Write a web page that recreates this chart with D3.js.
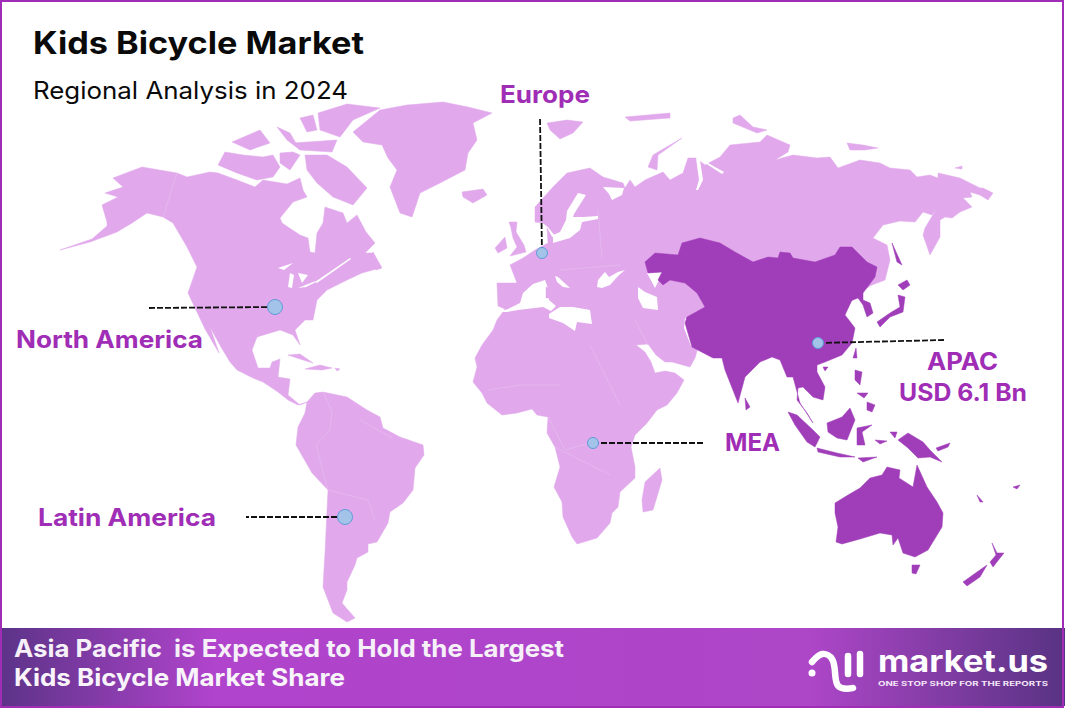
<!doctype html>
<html>
<head>
<meta charset="UTF-8">
<title>Kids Bicycle Market</title>
<script src="https://d3js.org/d3.v7.min.js"></script>
<style type="text/css">
html, body { margin: 0; padding: 0; background: #fff; }
svg { display: block; }
text { font-family: Inter, "Open Sans", sans-serif; }
</style>
</head>
<body>
<script type="text/javascript">
// Text of the chart
var chartTitle = "Kids Bicycle Market";
var chartSubtitle = "Regional Analysis in 2024";
var bannerLines = ["Asia Pacific  is Expected to Hold the Largest", "Kids Bicycle Market Share"];
var regionNames = ["Europe", "North America", "APAC", "MEA", "Latin America"];
var apacValue = "USD 6.1 Bn";

// Marker spots on the map, in map units, same order as regionNames
var regionSpots = [[542, 253], [275, 307], [818, 343], [593, 443], [345, 517]];

// Outlines, in map units
var northAmerica = [[113,178],[142,167],[177,173],[187,177],[210,172],[218,173],[237,180],[255,187],[263,180],[287,184],[300,178],[303,190],[307,197],[293,202],[280,218],[282,223],[300,235],[308,238],[310,252],[315,253],[317,233],[323,223],[325,207],[343,213],[347,223],[357,215],[366,232],[375,243],[365,253],[373,253],[380,268],[362,273],[347,280],[327,290],[317,300],[313,320],[305,320],[295,330],[300,345],[293,335],[280,330],[257,337],[252,350],[258,368],[270,368],[272,362],[280,359],[278,377],[290,379],[288,395],[300,405],[307,402],[298,405],[288,400],[278,392],[263,382],[253,378],[237,370],[230,362],[221,347],[210,327],[219,353],[205,329],[188,293],[197,267],[187,247],[173,223],[163,217],[147,213],[132,223],[117,232],[90,242],[60,250],[92,239],[107,226],[107,222],[102,205],[118,197],[105,193],[123,187]];
var southAmerica = [[307,402],[315,393],[323,392],[347,397],[367,410],[380,417],[383,428],[400,437],[423,445],[424,455],[415,468],[413,490],[403,503],[390,512],[388,523],[377,542],[368,544],[368,552],[357,558],[355,565],[347,582],[347,590],[342,603],[355,618],[347,622],[333,613],[323,587],[325,553],[328,490],[312,473],[296,445],[298,427],[305,413]];
var greenland = [[380,110],[407,105],[443,102],[468,107],[492,113],[473,123],[477,140],[468,153],[465,170],[440,183],[420,193],[412,217],[400,213],[390,187],[397,170],[388,158],[382,145],[363,142],[353,132]];
var arcticIslands = [
  [[218,165],[225,152],[243,155],[263,157],[273,155],[280,167],[273,177],[257,180],[237,173]],
  [[305,155],[327,155],[347,167],[367,188],[353,205],[333,197],[317,183],[307,170]],
  [[318,113],[347,104],[380,108],[353,120],[340,137],[320,130]],
  [[300,118],[313,115],[317,130],[307,132]],
  [[232,142],[260,130],[270,143],[250,150]],
  [[277,127],[290,133],[300,150],[287,140]],
  [[293,143],[337,140],[332,152],[300,150]],
  [[280,153],[293,152],[300,155],[290,170],[280,163]],
  [[373,252],[382,268],[376,270],[370,260]],
  [[462,192],[483,189],[487,195],[473,203],[463,197]],
  [[547,123],[567,120],[583,122],[573,133],[560,139],[550,130]],
  [[625,117],[670,113],[670,118],[630,121]],
  [[682,138],[653,155],[648,167],[657,170],[658,155]],
  [[733,118],[740,115],[753,127],[767,130],[757,133],[733,123]],
  [[847,143],[863,145],[878,148],[865,150],[850,150]],
  [[955,168],[962,166],[962,169]]
];
var caribbean = [
  [[288,355],[300,354],[313,363],[300,359]],
  [[305,369],[320,365],[332,368],[322,370]],
  [[335,368],[340,369],[337,371]]
];
var europeIslands = [
  [[509,222],[517,222],[516,232],[524,245],[526,252],[510,256],[517,247],[513,238],[511,228]],
  [[495,248],[505,237],[507,248],[498,253]],
  [[546,287],[549,288],[549,298],[546,298]],
  [[660,468],[662,480],[653,510],[643,512],[642,500],[645,482]]
];
// Eurasia with Africa, the seas are laid over it
var oldWorld = [[497,283],[517,283],[510,265],[523,258],[535,250],[548,243],[547,228],[552,237],[557,238],[548,227],[543,223],[535,222],[535,207],[553,187],[567,173],[590,168],[603,177],[623,183],[625,188],[630,180],[635,187],[645,180],[663,172],[670,180],[683,173],[688,158],[696,158],[705,165],[720,157],[730,145],[760,142],[767,135],[790,145],[788,152],[775,160],[793,155],[817,158],[830,157],[838,168],[860,160],[880,163],[890,168],[910,170],[917,177],[930,175],[938,178],[938,173],[960,178],[980,188],[983,188],[993,193],[988,200],[980,195],[970,192],[972,197],[963,198],[972,207],[960,212],[952,218],[945,217],[940,220],[940,237],[930,255],[923,235],[925,228],[937,208],[932,215],[923,212],[915,222],[900,221],[883,225],[873,238],[887,245],[890,260],[885,280],[872,285],[860,292],[700,340],[695,358],[690,367],[672,362],[665,362],[656,355],[648,344],[636,345],[645,352],[651,362],[655,373],[665,371],[675,373],[684,380],[677,393],[667,405],[657,410],[647,423],[635,435],[631,447],[635,467],[635,478],[620,492],[618,507],[612,513],[610,523],[597,538],[577,544],[572,537],[563,517],[562,502],[554,487],[560,467],[555,447],[547,433],[548,417],[537,415],[532,409],[517,413],[502,415],[487,403],[482,393],[473,382],[477,367],[475,358],[482,345],[493,330],[497,320],[505,309],[498,306]];
var seas = [
  [[498,312],[508,309],[520,303],[523,293],[533,284],[545,280],[548,288],[549,300],[556,306],[551,311],[543,307],[518,310],[507,312]],
  [[549,314],[560,307],[573,307],[590,310],[592,324],[577,322],[575,331],[563,323],[549,318]],
  [[555,276],[558,277],[570,288],[563,287],[557,282]],
  [[597,287],[598,280],[605,272],[609,277],[618,272],[625,270],[618,276],[610,285],[602,288]],
  [[638,287],[645,292],[657,297],[658,310],[643,308],[638,298]],
  [[647,273],[663,272],[655,288]],
  [[553,243],[570,238],[580,230],[582,222],[598,219],[598,216],[583,217],[573,217],[574,214],[586,195],[578,193],[567,211],[566,220],[560,232],[553,235]],
  [[603,187],[624,188],[622,195],[612,200],[609,194]],
  [[696,158],[700,160],[703,180],[698,190],[696,190],[699,180]],
  [[705,163],[708,163],[724,172],[722,174]],
  [[685,318],[688,320],[694,347],[691,346],[684,328]]
];
var apacMain = [[645,262],[655,253],[678,255],[682,243],[700,238],[720,243],[735,252],[753,262],[768,257],[778,258],[780,252],[790,253],[793,258],[815,262],[835,255],[840,247],[852,247],[867,262],[877,267],[875,277],[863,293],[863,300],[870,303],[873,313],[867,317],[863,305],[858,298],[848,302],[840,300],[850,293],[852,300],[845,315],[855,328],[852,343],[842,355],[825,362],[817,365],[817,372],[825,387],[823,400],[813,397],[803,387],[798,388],[797,400],[807,413],[813,423],[800,403],[793,377],[787,377],[780,360],[772,357],[760,362],[745,377],[738,403],[725,370],[722,358],[713,358],[692,347],[685,323],[687,317],[705,307],[697,293],[685,283],[670,280],[663,285],[658,280],[662,272],[648,273]];
var apacIslands = [
  [[745,398],[750,407],[746,410]],
  [[856,348],[857,358],[853,358]],
  [[823,367],[828,367],[825,371]],
  [[877,322],[890,313],[900,307],[898,295],[905,297],[903,312],[890,317],[880,327]],
  [[898,285],[907,280],[910,285],[903,290]],
  [[892,243],[902,265],[897,262]],
  [[855,370],[862,372],[860,385],[855,380]],
  [[867,402],[875,405],[872,412],[867,410]],
  [[857,393],[868,393],[864,398]],
  [[788,412],[797,415],[813,430],[820,437],[815,447],[807,442],[795,425]],
  [[817,448],[837,453],[855,457],[840,457],[818,452]],
  [[858,458],[877,457],[863,462]],
  [[827,423],[842,417],[850,408],[855,420],[847,440],[837,438],[828,432]],
  [[857,428],[872,425],[862,432],[865,445],[857,445]],
  [[898,440],[908,433],[923,442],[930,450],[942,462],[930,457],[918,458],[908,448]],
  [[890,432],[897,432],[895,438]],
  [[875,440],[887,441],[880,444]],
  [[936,448],[950,443],[948,447],[938,451]],
  [[977,495],[983,502],[980,502]],
  [[1013,487],[1020,485],[1017,489]],
  [[835,503],[848,495],[860,488],[870,478],[882,475],[887,467],[900,470],[899,478],[913,487],[917,465],[927,487],[937,502],[943,513],[942,527],[928,550],[915,557],[903,553],[898,538],[893,545],[892,535],[880,533],[860,539],[842,544],[836,542],[838,527],[835,513]],
  [[912,565],[920,565],[916,574],[912,573]],
  [[992,543],[997,553],[1004,553],[993,567],[990,562],[996,555]],
  [[987,565],[980,577],[967,586],[963,582],[977,572]]
];
var greatLakes = [
  [[278,268],[293,263],[284,270]],
  [[288,287],[290,273],[294,275],[292,288]],
  [[298,273],[308,275],[302,283]],
  [[298,288],[313,282],[320,280],[306,287]],
  [[315,282],[350,258],[351,259],[317,283]]
];
// Faint country lines
var borders = [
  [[177,173],[163,217]],
  [[323,392],[332,412],[330,430]],
  [[330,430],[316,445],[328,490]],
  [[360,420],[392,438]],
  [[328,490],[368,500],[375,520]],
  [[488,390],[520,385],[560,385]],
  [[548,417],[565,450],[600,440]],
  [[590,345],[620,405]],
  [[635,320],[648,345]],
  [[555,447],[610,475]],
  [[598,210],[602,260]],
  [[560,270],[620,265]]
];

var width = 1065, height = 708;

var svg = d3.select("body").append("svg")
    .attr("width", width)
    .attr("height", height);

var defs = svg.append("defs");
var grad = defs.append("linearGradient").attr("id", "bannerFill");
[[0, "#5c3388"], [0.2, "#b044cc"], [0.76, "#ae46c8"], [1, "#583383"]].forEach(function (s) {
    grad.append("stop").attr("offset", s[0]).attr("stop-color", s[1]);
});

svg.append("rect").attr("width", width).attr("height", height).attr("fill", "#fff");

// map units sit straight on the page
var projection = d3.geoIdentity();
var path = d3.geoPath(projection);

function drawShapes(rings, fill, stroke) {
    svg.append("g").selectAll("path")
        .data(rings)
        .enter().append("path")
        .attr("d", function (r) {
            return path({ type: "Polygon", coordinates: [r.concat([r[0]])] });
        })
        .attr("fill", fill)
        .attr("stroke", stroke || "none")
        .attr("stroke-width", stroke ? 0.5 : 0)
        .attr("stroke-linejoin", "round");
}

var lightPurple = "#e1a9ec", darkPurple = "#a03db9", labelPurple = "#a02db5";

drawShapes([northAmerica, southAmerica, greenland, oldWorld], lightPurple, lightPurple);
drawShapes(arcticIslands.concat(caribbean), lightPurple, lightPurple);
drawShapes(seas.concat(greatLakes), "#fff");
drawShapes(europeIslands, lightPurple, lightPurple);
drawShapes([apacMain], darkPurple, darkPurple);
drawShapes(apacIslands, darkPurple, darkPurple);

// Country lines
svg.append("g").selectAll("path")
    .data(borders)
    .enter().append("path")
    .attr("d", function (b) { return path({ type: "LineString", coordinates: b }); })
    .attr("fill", "none")
    .attr("stroke", "#e8bff0")
    .attr("stroke-width", 0.6);

// Leader ends, same order as regionNames
var leaderEnds = [[540, 117], [148, 308], [945, 340], [703, 443], [246, 517]];
var markerSizes = [5.5, 7.5, 5.5, 5.5, 7.5];

svg.append("g").selectAll("line")
    .data(regionSpots)
    .enter().append("line")
    .attr("x1", function (d) { return projection(d)[0]; })
    .attr("y1", function (d) { return projection(d)[1]; })
    .attr("x2", function (d, i) { return leaderEnds[i][0]; })
    .attr("y2", function (d, i) { return leaderEnds[i][1]; })
    .attr("stroke", "#111")
    .attr("stroke-width", 1.8)
    .attr("stroke-dasharray", "6 2");

svg.append("g").selectAll("circle")
    .data(regionSpots)
    .enter().append("circle")
    .attr("cx", function (d) { return projection(d)[0]; })
    .attr("cy", function (d) { return projection(d)[1]; })
    .attr("r", function (d, i) { return markerSizes[i]; })
    .attr("fill", "#a3c4e8")
    .attr("stroke", "#5f9bd8")
    .attr("stroke-width", 1);

// fits a text to the width it has in the picture
function label(txt, x, y, size, weight, fill, w) {
    return svg.append("text")
        .attr("x", x).attr("y", y)
        .attr("font-size", size)
        .attr("font-weight", weight)
        .attr("fill", fill)
        .attr("textLength", w)
        .attr("lengthAdjust", "spacingAndGlyphs")
        .style("white-space", "pre")
        .text(txt);
}

label(chartTitle, 33, 54, 31, 700, "#0a0a0a", 331);
label(chartSubtitle, 33, 99, 24, 400, "#0a0a0a", 315);

label(regionNames[0], 500, 103, 24, 700, labelPurple, 90);
label(regionNames[1], 16, 348, 24, 700, labelPurple, 187);
label(regionNames[2], 927, 370, 24, 700, labelPurple, 71);
label(apacValue, 899, 401, 24, 700, labelPurple, 128);
label(regionNames[3], 725, 451, 24, 700, labelPurple, 55);
label(regionNames[4], 38, 526, 24, 700, labelPurple, 178);

// Banner
svg.append("rect")
    .attr("x", 0).attr("y", 628)
    .attr("width", width).attr("height", 78)
    .attr("fill", "url(#bannerFill)");
label(bannerLines[0], 14, 657, 24, 700, "#f6f0f8", 550);
label(bannerLines[1], 14, 686, 24, 700, "#f8f4fa", 331);

// Logo
var logo = svg.append("g")
    .attr("fill", "none")
    .attr("stroke", "#fff")
    .attr("stroke-width", 6.5)
    .attr("stroke-linecap", "round");
logo.append("path").attr("d", d3.line().curve(d3.curveBasis)([[812, 662], [822, 651], [834, 658], [835, 672], [836, 688], [848, 689], [853, 688]]));
logo.append("line").attr("x1", 848).attr("y1", 656).attr("x2", 848).attr("y2", 674);
logo.append("line").attr("x1", 860).attr("y1", 654).attr("x2", 860).attr("y2", 674);
svg.append("circle").attr("cx", 812).attr("cy", 673).attr("r", 3.5).attr("fill", "#fff");
label("market.us", 878, 672, 30, 700, "#fff", 170);
label("ONE STOP SHOP FOR THE REPORTS", 878, 686, 6.5, 700, "#f4e6f8", 170);

// Frame
svg.append("rect")
    .attr("x", 1).attr("y", 1)
    .attr("width", width - 3).attr("height", height - 2)
    .attr("fill", "none")
    .attr("stroke", "#a02db5")
    .attr("stroke-width", 2);
</script>
</body>
</html>
